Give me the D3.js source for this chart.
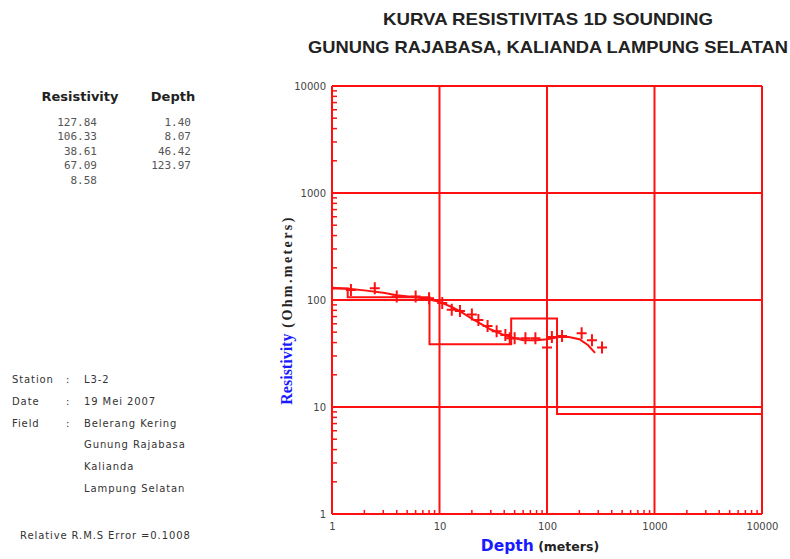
<!DOCTYPE html>
<html>
<head>
<meta charset="utf-8">
<script src="https://cdn.jsdelivr.net/npm/d3@7"></script>
<style>
  body { margin: 0; background: #fff; }
  svg { display: block; }
  text { fill: #333; }
</style>
</head>
<body>
<svg id="canvas" width="790" height="559"></svg>
<script>
// layered model (table at top left)
let layerRes = [127.84, 106.33, 38.61, 67.09, 8.58]
let layerDepth = [1.40, 8.07, 46.42, 123.97]

// field data (AB/2 in meters, apparent resistivity)
let obsSpacing = [1.5, 2.5, 4, 6, 8, 10.6, 13, 15.5, 20, 23, 28, 34, 41, 45, 50, 63, 78, 100, 111, 138, 210, 262, 325]
let obsRes = [124, 129, 108, 108, 104, 94, 81, 79, 73, 65, 57, 51, 47, 44, 44, 44, 44, 36, 45, 46, 49, 42, 36]

// calculated curve
let calcSpacing = [1, 1.5, 2, 3, 4, 6, 8, 10, 13, 16, 20, 25, 30, 40, 50, 60, 80, 100, 130, 160, 200, 240, 280]
let calcRes = [130, 127, 123, 117, 111, 106, 101, 96, 86, 77, 67, 59, 53, 47, 44, 42, 42, 43, 45, 45, 43, 38, 32]

let xTicks = [1, 10, 100, 1000, 10000]
let yTicks = [1, 10, 100, 1000, 10000]

let titleLines = ['KURVA RESISTIVITAS 1D SOUNDING', 'GUNUNG RAJABASA, KALIANDA LAMPUNG SELATAN']
let titleWidths = [330, 480]

let stationInfo = [
  ['Station', 'L3-2'],
  ['Date', '19 Mei 2007'],
  ['Field', 'Belerang Kering'],
  ['', 'Gunung Rajabasa'],
  ['', 'Kalianda'],
  ['', 'Lampung Selatan']
]

let red = '#ff1010'
let canvas = d3.select('#canvas')

let x = d3.scaleLog().domain([1, 10000]).range([332, 762])
let y = d3.scaleLog().domain([1, 10000]).range([514, 86])

// title
canvas.selectAll('.title')
  .data(titleLines)
  .enter().append('text')
  .attr('x', 548)
  .attr('y', (d, i) => 25 + i * 28)
  .attr('text-anchor', 'middle')
  .attr('textLength', (d, i) => titleWidths[i])
  .attr('lengthAdjust', 'spacingAndGlyphs')
  .style('font-family', 'Liberation Sans, Arial, sans-serif')
  .style('font-weight', 'bold')
  .style('font-size', '17px')
  .style('fill', '#222')
  .text(d => d)

// model table
let tbl = canvas.append('g')
tbl.append('text').attr('x', 80).attr('y', 101).attr('text-anchor', 'middle')
  .style('font-family', 'DejaVu Sans, Verdana, sans-serif').style('font-weight', 'bold').style('font-size', '13px').style('fill', '#222')
  .text('Resistivity')
tbl.append('text').attr('x', 173).attr('y', 101).attr('text-anchor', 'middle')
  .style('font-family', 'DejaVu Sans, Verdana, sans-serif').style('font-weight', 'bold').style('font-size', '13px').style('fill', '#222')
  .text('Depth')
tbl.selectAll('.res').data(layerRes).enter().append('text')
  .attr('x', 97).attr('y', (d, i) => 126 + i * 14.4)
  .attr('text-anchor', 'end')
  .style('font-family', 'DejaVu Sans Mono, monospace').style('font-size', '11px').style('fill', '#555')
  .text(d => d.toFixed(2))
tbl.selectAll('.dep').data(layerDepth).enter().append('text')
  .attr('x', 191).attr('y', (d, i) => 126 + i * 14.4)
  .attr('text-anchor', 'end')
  .style('font-family', 'DejaVu Sans Mono, monospace').style('font-size', '11px').style('fill', '#555')
  .text(d => d.toFixed(2))

// station info
let info = canvas.append('g')
  .style('font-family', 'DejaVu Sans, Verdana, sans-serif')
  .style('font-size', '10px')
  .style('letter-spacing', '0.9px')
stationInfo.forEach((row, i) => {
  let yy = 383 + i * 21.8
  info.append('text').attr('x', 12).attr('y', yy).style('fill', '#333').text(row[0])
  if (row[0] !== '') {
    info.append('text').attr('x', 66).attr('y', yy).style('fill', '#333').text(':')
  }
  info.append('text').attr('x', 84).attr('y', yy).style('fill', '#333').text(row[1])
})
info.append('text').attr('x', 20).attr('y', 539).style('fill', '#333')
  .text('Relative R.M.S Error =0.1008')

// grid
let grid = canvas.append('g')
grid.selectAll('.vg').data(xTicks).enter().append('line')
  .attr('x1', d => x(d)).attr('x2', d => x(d))
  .attr('y1', y(10000)).attr('y2', y(1))
  .attr('stroke', red).attr('stroke-width', 2)
grid.selectAll('.hg').data(yTicks).enter().append('line')
  .attr('y1', d => y(d)).attr('y2', d => y(d))
  .attr('x1', x(1)).attr('x2', x(10000))
  .attr('stroke', red).attr('stroke-width', 2)

// minor ticks
let minors = x.ticks().filter(d => xTicks.indexOf(d) < 0)
grid.selectAll('.mx').data(minors).enter().append('line')
  .attr('x1', d => x(d)).attr('x2', d => x(d))
  .attr('y1', y(1)).attr('y2', y(1) - 4)
  .attr('stroke', red).attr('stroke-width', 1.5)
grid.selectAll('.my').data(minors).enter().append('line')
  .attr('y1', d => y(d)).attr('y2', d => y(d))
  .attr('x1', x(1)).attr('x2', x(1) + 5)
  .attr('stroke', red).attr('stroke-width', 1.5)

// axis labels (tick numbers)
let xAxis = canvas.append('g')
  .attr('transform', 'translate(0,' + (y(1) + 6) + ')')
  .call(d3.axisBottom(x).tickValues(xTicks).tickFormat(d3.format('d')).tickSize(0))
xAxis.select('.domain').remove()
xAxis.selectAll('text').style('font-family', 'DejaVu Sans, Verdana, sans-serif').style('font-size', '10px').style('fill', '#444')

let yAxis = canvas.append('g')
  .attr('transform', 'translate(' + (x(1) - 3) + ',0)')
  .call(d3.axisLeft(y).tickValues(yTicks).tickFormat(d3.format('d')).tickSize(0))
yAxis.select('.domain').remove()
yAxis.selectAll('text').style('font-family', 'DejaVu Sans, Verdana, sans-serif').style('font-size', '10px').style('fill', '#444')

// axis titles
let xt = canvas.append('text').attr('x', 540).attr('y', 551).attr('text-anchor', 'middle')
xt.append('tspan').style('font-family', 'DejaVu Sans, Verdana, sans-serif').style('font-weight', 'bold')
  .style('font-size', '15.5px').style('fill', '#1a1aff').text('Depth')
xt.append('tspan').style('font-family', 'DejaVu Sans, Verdana, sans-serif').style('font-weight', 'bold')
  .style('font-size', '12.5px').style('fill', '#222').text(' (meters)')

let yt = canvas.append('text').attr('transform', 'translate(292,310) rotate(-90)').attr('text-anchor', 'middle')
yt.append('tspan').style('font-family', 'Liberation Serif, Times New Roman, serif').style('font-weight', 'bold')
  .style('font-size', '16px').style('fill', '#1a1aff').text('Resistivity')
yt.append('tspan').style('font-family', 'Liberation Serif, Times New Roman, serif').style('font-weight', 'bold')
  .style('font-size', '14px').style('letter-spacing', '2.4px').style('fill', '#222').text(' (Ohm.meters)')

// layered model steps
let stepPts = [[1, layerRes[0]]]
layerDepth.forEach((d, i) => stepPts.push([d, layerRes[i + 1]]))
stepPts.push([10000, layerRes[layerRes.length - 1]])
canvas.append('path')
  .datum(stepPts)
  .attr('d', d3.line().x(d => x(d[0])).y(d => y(d[1])).curve(d3.curveStepAfter))
  .attr('fill', 'none').attr('stroke', red).attr('stroke-width', 2)

// calculated curve
let calc = calcSpacing.map((s, i) => [s, calcRes[i]])
canvas.append('path')
  .datum(calc)
  .attr('d', d3.line().x(d => x(d[0])).y(d => y(d[1])))
  .attr('fill', 'none').attr('stroke', red).attr('stroke-width', 2)

// observed points as +
let obs = obsSpacing.map((s, i) => [s, obsRes[i]])
canvas.selectAll('.pt').data(obs).enter().append('path')
  .attr('d', d => {
    let px = x(d[0]), py = y(d[1])
    return 'M' + (px - 5) + ',' + py + 'H' + (px + 5) + 'M' + px + ',' + (py - 6) + 'V' + (py + 6)
  })
  .attr('stroke', red).attr('stroke-width', 2).attr('fill', 'none')
</script>
</body>
</html>
